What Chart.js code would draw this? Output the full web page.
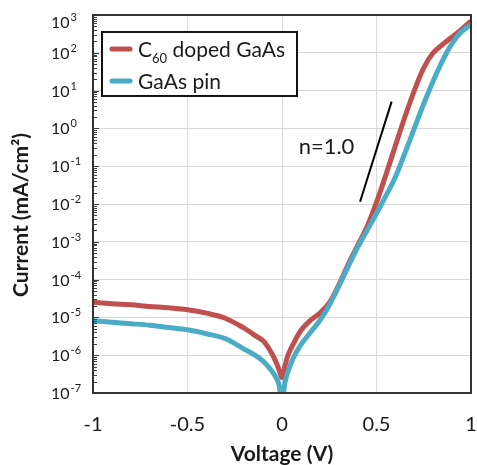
<!DOCTYPE html>
<html>
<head>
<meta charset="utf-8">
<script src="https://cdn.jsdelivr.net/npm/chart.js@4.4.1/dist/chart.umd.min.js"></script>
<style>
  html, body { margin: 0; padding: 0; background: #fff; }
  #wrap { width: 477px; height: 465px; }
</style>
</head>
<body>
<div id="wrap"><canvas id="ivChart"></canvas></div>
<script>
// values (V in volts, J in mA/cm2)
const voltage = [-1, -0.9, -0.8, -0.7, -0.6, -0.5, -0.4, -0.3, -0.2, -0.15, -0.1, -0.06, -0.03, -0.015,
    0, 0.015, 0.03, 0.06, 0.1, 0.15, 0.2, 0.25, 0.3, 0.35, 0.4, 0.45, 0.5, 0.55, 0.6, 0.65, 0.7,
    0.75, 0.8, 0.85, 0.9, 0.95, 1];
const currentC60 = [2.5e-5, 2.3e-5, 2.15e-5, 1.95e-5, 1.8e-5, 1.6e-5, 1.3e-5, 9.5e-6, 5.2e-6, 3.5e-6,
    2.4e-6, 1.25e-6, 6.3e-7, 4e-7, 2.6e-7, 5e-7, 9.5e-7, 2e-6, 4.5e-6, 8.3e-6, 1.3e-5, 2.4e-5,
    7.1e-5, 2.5e-4, 7.9e-4, 2.5e-3, 1.1e-2, 6e-2, 0.35, 2.0, 10, 40, 100, 166, 263, 417, 690];
const currentPin = [8.1e-6, 7.4e-6, 6.8e-6, 6.2e-6, 5.4e-6, 4.7e-6, 3.7e-6, 2.75e-6, 1.45e-6, 1.05e-6,
    7e-7, 4.2e-7, 2.5e-7, 1.6e-7, 5e-8, 1.8e-7, 3.5e-7, 8.5e-7, 1.9e-6, 4e-6, 8.3e-6, 2.1e-5,
    6.6e-5, 2.2e-4, 7.1e-4, 2e-3, 5.6e-3, 1.66e-2, 5.2e-2, 0.22, 1.0, 4.5, 18, 63, 178, 363, 560];
const seriesNames = ['C₆₀ doped GaAs', 'GaAs pin'];
const seriesColors = ['#c0504d', '#4bacc6'];

// ideality guide line
const slopeVoltage = [0.413, 0.58];
const slopeCurrent = [1.15e-2, 5.1];
const slopeLabel = 'n=1.0';

const xTicks = [-1, -0.5, 0, 0.5, 1];
const yTickExponents = [3, 2, 1, 0, -1, -2, -3, -4, -5, -6, -7];
const yTitle = 'Current (mA/cm²)';

const FONT = 'Lato, "Open Sans", sans-serif';
const TEXT = '#1a1a1a';

function toPoints(xs, ys) {
    return xs.map((x, i) => ({ x: x, y: ys[i] }));
}

// draws text where subscript digits (₀-₉) are rendered small and lowered
function drawRichLabel(ctx, text, x, baseline, size) {
    const subs = '₀₁₂₃₄₅₆₇₈₉';
    let cur = x;
    let buf = '';
    let isSub = false;
    const flush = () => {
        if (!buf) return;
        ctx.font = (isSub ? Math.round(size * 0.6) : size) + 'px ' + FONT;
        ctx.fillText(buf, cur, baseline + (isSub ? 6 : 0));
        cur += ctx.measureText(buf).width;
        buf = '';
    };
    for (const ch of text) {
        const k = subs.indexOf(ch);
        const sub = k >= 0;
        if (sub !== isSub) { flush(); isSub = sub; }
        buf += sub ? String(k) : ch;
    }
    flush();
}

const decorPlugin = {
    id: 'decor',
    afterDraw(chart) {
        const ctx = chart.ctx;
        const area = chart.chartArea;
        const xs = chart.scales.x;
        const ys = chart.scales.y;
        ctx.save();

        // inward ticks on the left axis (decades and 2..9)
        ctx.strokeStyle = '#404040';
        ctx.lineWidth = 1;
        for (let i = 1; i < yTickExponents.length; i++) {
            const e = yTickExponents[i];
            for (let m = 1; m < 10; m++) {
                const py = Math.round(ys.getPixelForValue(m * Math.pow(10, e))) + 0.5;
                const len = m === 1 ? 6 : 4;
                ctx.beginPath();
                ctx.moveTo(area.left, py);
                ctx.lineTo(area.left + len, py);
                ctx.stroke();
            }
        }

        // plot frame
        ctx.strokeStyle = '#333';
        ctx.lineWidth = 2;
        ctx.strokeRect(area.left, area.top, area.right - area.left, area.bottom - area.top);

        // y tick labels as 10 with a raised exponent
        ctx.fillStyle = TEXT;
        ctx.textAlign = 'left';
        ctx.textBaseline = 'alphabetic';
        yTickExponents.forEach(e => {
            const py = Math.max(ys.getPixelForValue(Math.pow(10, e)), 22);
            ctx.font = '16px ' + FONT;
            ctx.fillText('10', 51, py + 6);
            const w = ctx.measureText('10').width;
            ctx.font = '11px ' + FONT;
            ctx.fillText(String(e), 51 + w + 1, py - 1);
        });

        // y axis title, sitting a little below the plot centre as in the original
        ctx.save();
        ctx.translate(21, (area.top + area.bottom) / 2 + 11);
        ctx.rotate(-Math.PI / 2);
        ctx.textAlign = 'center';
        ctx.textBaseline = 'middle';
        ctx.font = 'bold 21px ' + FONT;
        ctx.fillText(yTitle, 0, 0);
        ctx.restore();

        // slope annotation text
        ctx.font = '22px ' + FONT;
        ctx.fillText(slopeLabel, xs.getPixelForValue(0.088), ys.getPixelForValue(0.21));

        // legend box inside the plot
        const bx = area.left + 9, by = area.top + 17, bw = 195, bh = 64;
        ctx.fillStyle = '#fff';
        ctx.fillRect(bx, by, bw, bh);
        ctx.strokeStyle = '#111';
        ctx.lineWidth = 2;
        ctx.strokeRect(bx, by, bw, bh);
        seriesNames.forEach((name, i) => {
            const rowY = by + 17 + i * 32;
            ctx.strokeStyle = seriesColors[i];
            ctx.lineWidth = 5;
            ctx.lineCap = 'round';
            ctx.beginPath();
            ctx.moveTo(bx + 10, rowY);
            ctx.lineTo(bx + 28, rowY);
            ctx.stroke();
            ctx.fillStyle = TEXT;
            drawRichLabel(ctx, name, bx + 36, rowY + 8, 21);
        });
        ctx.restore();
    }
};

const ctx = document.getElementById('ivChart').getContext('2d');

new Chart(ctx, {
    type: 'line',
    data: {
        datasets: [
            {
                label: seriesNames[0],
                data: toPoints(voltage, currentC60),
                borderColor: seriesColors[0],
                borderWidth: 5,
                pointRadius: 0,
                tension: 0.35,
                order: 2
            },
            {
                label: seriesNames[1],
                data: toPoints(voltage, currentPin),
                borderColor: seriesColors[1],
                borderWidth: 5,
                pointRadius: 0,
                tension: 0.35,
                order: 1
            },
            {
                label: slopeLabel,
                data: toPoints(slopeVoltage, slopeCurrent),
                borderColor: '#000',
                borderWidth: 2,
                pointRadius: 0,
                order: 0
            }
        ]
    },
    options: {
        responsive: true,
        maintainAspectRatio: false,
        animation: false,
        layout: { padding: { top: 15, right: 6, left: 0, bottom: 0 } },
        plugins: {
            legend: { display: false },
            tooltip: { enabled: false }
        },
        scales: {
            x: {
                type: 'linear',
                min: -1,
                max: 1,
                afterBuildTicks: s => { s.ticks = xTicks.map(v => ({ value: v })); },
                afterFit: s => {
                    s.height = 72;
                    s.paddingLeft = 0;
                    s.paddingRight = 0;
                },
                grid: { color: '#d9d9d9', drawTicks: false },
                border: { display: false },
                ticks: {
                    font: { family: FONT, size: 20 },
                    color: TEXT,
                    padding: 20,
                    maxRotation: 0,
                    callback: v => String(v)
                },
                title: {
                    display: true,
                    text: 'Voltage (V)',
                    color: TEXT,
                    font: { family: FONT, size: 21, weight: 'bold', lineHeight: 1 },
                    padding: { top: 0, bottom: 0 }
                }
            },
            y: {
                type: 'logarithmic',
                min: 1e-7,
                max: 1e3,
                afterBuildTicks: s => { s.ticks = yTickExponents.map(e => ({ value: Math.pow(10, e) })); },
                afterFit: s => {
                    s.width = 93;
                    s.paddingTop = 0;
                    s.paddingBottom = 0;
                },
                grid: { color: '#d9d9d9', drawTicks: false },
                border: { display: false },
                ticks: { callback: () => '' }
            }
        }
    },
    plugins: [decorPlugin]
});
</script>
</body>
</html>
